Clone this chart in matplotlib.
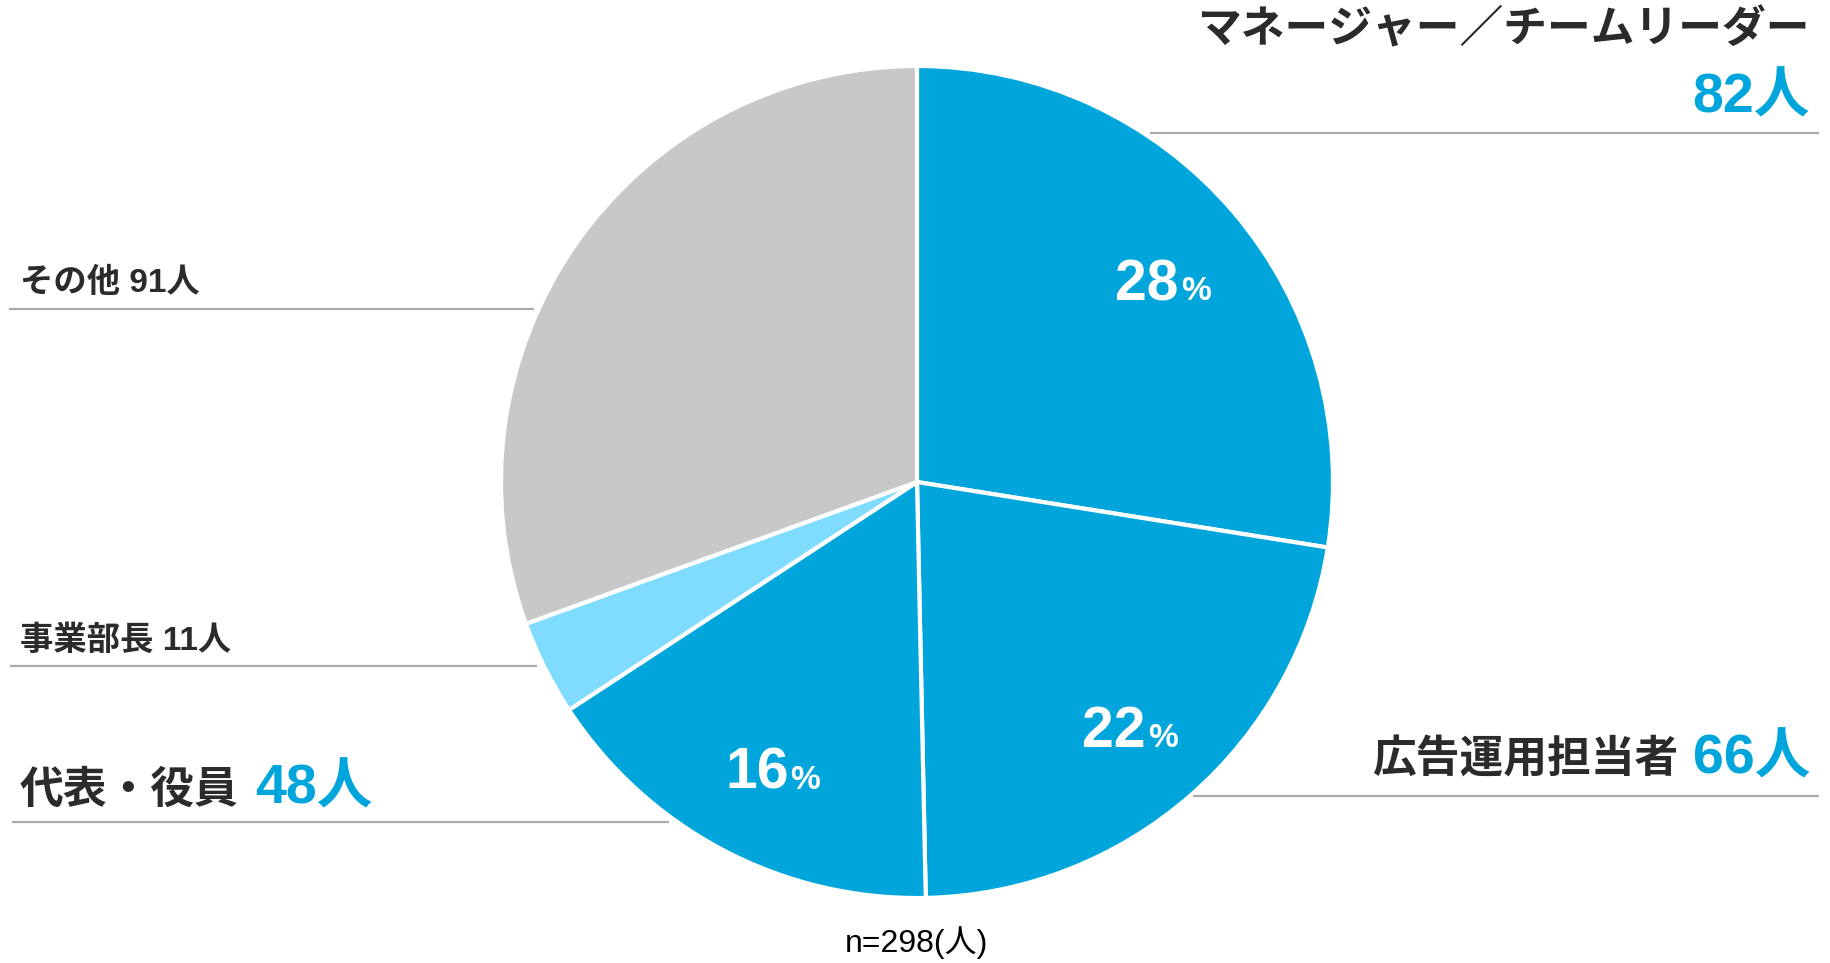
import numpy as np
import matplotlib
matplotlib.use("Agg")
import matplotlib.pyplot as plt

# data
labels = ["マネージャー／チームリーダー", "広告運用担当者", "代表・役員", "事業部長", "その他"]
counts = [82, 66, 48, 11, 91]
colors = ["#00a5dc", "#00a5dc", "#00a5dc", "#7fdcff", "#c8c8c8"]
pct_shown = [True, True, True, False, False]
total = sum(counts)

W, H = 1831, 963
BLUE = "#00a5dc"
DARK = "#2b2b2b"
GREY = "#aaaaaa"
FAM = ["Liberation Sans", "Noto Sans CJK JP"]

fig = plt.figure(figsize=(W / 100, H / 100), dpi=100)
ax = fig.add_axes([0, 0, 1, 1])

def Y(y):
    return H - y

cx, cy, r = 917, 482, 416
ax.pie(counts, colors=colors, startangle=90, counterclock=False,
       center=(cx, Y(cy)), radius=r,
       wedgeprops=dict(edgecolor="white", linewidth=3))
ax.set_xlim(0, W)
ax.set_ylim(0, H)
ax.set_aspect("equal")
ax.axis("off")

fig.canvas.draw()
rend = fig.canvas.get_renderer()

def width_px(t):
    bb = t.get_window_extent(renderer=rend)
    return bb.x0, bb.x1

# percent labels inside wedges
cum = 0
for v, show in zip(counts, pct_shown):
    mid = 90 - 360 * (cum + v / 2) / total
    cum += v
    if not show:
        continue
    px = cx + 0.765 * r * np.cos(np.radians(mid))
    py = Y(cy) + 0.765 * r * np.sin(np.radians(mid))
    num = ax.text(px - 12, py - 25, f"{round(100 * v / total)}", color="white",
                  fontsize=41, fontweight="bold", family=FAM,
                  ha="center", va="baseline")
    x0, x1 = width_px(num)
    ax.text(x1 + 2, py - 25, "%", color="white", fontsize=24,
            fontweight="bold", family=FAM, ha="left", va="baseline")

def hline(x0, x1, y):
    ax.plot([x0, x1], [Y(y), Y(y)], color=GREY, lw=1.6, solid_capstyle="butt")

# right side labels
ax.text(1810, Y(42), labels[0], color=DARK, fontsize=31.5, fontweight="bold",
        family=FAM, ha="right", va="baseline")
ax.text(1810, Y(112), f"{counts[0]}人", color=BLUE, fontsize=40,
        fontweight="bold", family=FAM, ha="right", va="baseline")
hline(1150, 1819, 133)

b = ax.text(1810, Y(773), f"{counts[1]}人", color=BLUE, fontsize=40,
            fontweight="bold", family=FAM, ha="right", va="baseline")
x0, _ = width_px(b)
ax.text(x0 - 14, Y(773), labels[1], color=DARK, fontsize=31.5,
        fontweight="bold", family=FAM, ha="right", va="baseline")
hline(1193, 1819, 796)

# left side labels
ax.text(20, Y(292), f"{labels[4]} {counts[4]}人", color=DARK, fontsize=24,
        fontweight="bold", family=FAM, ha="left", va="baseline")
hline(9, 534, 309)

ax.text(20, Y(650), f"{labels[3]} {counts[3]}人", color=DARK, fontsize=24,
        fontweight="bold", family=FAM, ha="left", va="baseline")
hline(10, 537, 666)

a = ax.text(20, Y(803), labels[2], color=DARK, fontsize=31.5,
            fontweight="bold", family=FAM, ha="left", va="baseline")
_, x1 = width_px(a)
ax.text(x1 + 16, Y(803), f"{counts[2]}人", color=BLUE, fontsize=40,
        fontweight="bold", family=FAM, ha="left", va="baseline")
hline(12, 669, 822)

ax.text(cx, Y(952), f"n={total}(人)", color="black", fontsize=23,
        family=FAM, ha="center", va="baseline")

fig.savefig("out.png", dpi=100)
